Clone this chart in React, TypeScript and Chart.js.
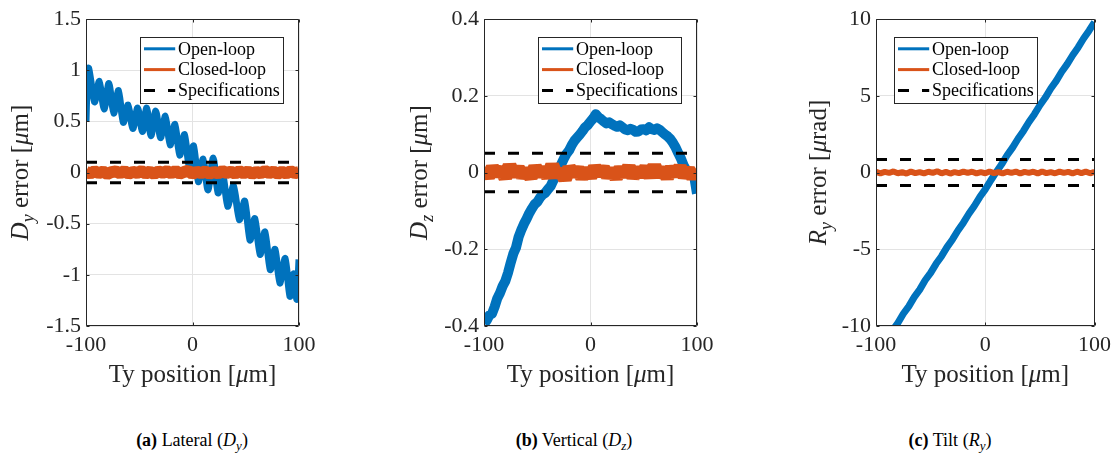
import React, { useEffect, useRef } from 'react';
import { Chart, registerables } from 'chart.js';

Chart.register(...registerables);

// ---------- data ----------
const BLUE = '#0072BD';
const ORANGE = '#D95319';
const GRID = '#e3e3e3';
const TXT = '#262626';
const FONT = '"Liberation Serif", "Times New Roman", serif';

const X_TICKS = [-100, 0, 100];
const Y_TICKS_DY = [-1.5, -1, -0.5, 0, 0.5, 1, 1.5];
const Y_TICKS_DZ = [-0.4, -0.2, 0, 0.2, 0.4];
const Y_TICKS_RY = [-10, -5, 0, 5, 10];

const SPEC_DY = 0.1;
const SPEC_DZ = 0.05;
const SPEC_RY = 0.85;

const POS_4 = [
  -100, -96, -92, -88, -84, -80, -76, -72, -68, -64,
  -60, -56, -52, -48, -44, -40, -36, -32, -28, -24,
  -20, -16, -12, -8, -4, 0, 4, 8, 12, 16,
  20, 24, 28, 32, 36, 40, 44, 48, 52, 56,
  60, 64, 68, 72, 76, 80, 84, 88, 92, 96,
  100,
];
const POS_5 = [
  -100, -95, -90, -85, -80, -75, -70, -65, -60, -55,
  -50, -45, -40, -35, -30, -25, -20, -15, -10, -5,
  0, 5, 10, 15, 20, 25, 30, 35, 40, 45,
  50, 55, 60, 65, 70, 75, 80, 85, 90, 95,
  100,
];
const POS_2_5 = [
  -100, -97.5, -95, -92.5, -90, -87.5, -85, -82.5, -80, -77.5,
  -75, -72.5, -70, -67.5, -65, -62.5, -60, -57.5, -55, -52.5,
  -50, -47.5, -45, -42.5, -40, -37.5, -35, -32.5, -30, -27.5,
  -25, -22.5, -20, -17.5, -15, -12.5, -10, -7.5, -5, -2.5,
  0, 2.5, 5, 7.5, 10, 12.5, 15, 17.5, 20, 22.5,
  25, 27.5, 30, 32.5, 35, 37.5, 40, 42.5, 45, 47.5,
  50, 52.5, 55, 57.5, 60, 62.5, 65, 67.5, 70, 72.5,
  75, 77.5, 80, 82.5, 85, 87.5, 90, 92.5, 95, 97.5,
  100,
];

// (a) Lateral – open loop (peaks / troughs of the ripple)
const OL_DY_X = [
  -100, -99, -97.5, -92, -87.5, -83, -78.5, -74, -69.5, -65,
  -60.5, -56, -51.5, -47, -43, -39, -34.5, -30, -25.5, -21,
  -16.5, -12, -7.5, -3, 1, 5.5, 10, 14.5, 19.5, 24,
  28.5, 33, 38.5, 44, 49, 54, 58.5, 63.5, 68, 73,
  77.5, 82, 87, 91.5, 95, 98, 100,
];
const OL_DY_Y = [
  0.5, 0.85, 1.02, 0.69, 0.89, 0.62, 0.87, 0.58, 0.8, 0.49,
  0.66, 0.43, 0.63, 0.4, 0.63, 0.36, 0.6, 0.34, 0.55, 0.27,
  0.47, 0.17, 0.37, 0.05, 0.26, -0.09, 0.13, -0.17, 0.14, -0.2,
  -0.02, -0.33, -0.13, -0.46, -0.28, -0.66, -0.45, -0.8, -0.58, -0.95,
  -0.75, -1.08, -0.84, -1.21, -0.99, -1.24, -0.85,
];
const CL_DY_Y = [
  0.008, -0.011, 0.013, -0.006, 0.01, -0.014, 0.004, 0.012, -0.009, 0.015,
  -0.012, 0.006, -0.004, 0.014, -0.01, 0.009, -0.015, 0.011, -0.003, 0.013,
  -0.008, 0.016, -0.011, 0.005, 0.018, -0.016, 0.01, -0.007, 0.012, -0.013,
  0.006, -0.01, 0.014, -0.005, 0.009, -0.012, 0.013, -0.008, 0.011, -0.014,
  0.007, -0.009, 0.015, -0.006, 0.01, -0.012, 0.008, -0.01, 0.013, -0.007,
  0.005,
];

// (b) Vertical
const OL_DZ_Y = [
  -0.392, -0.386, -0.372, -0.368, -0.35, -0.328, -0.314, -0.296, -0.283, -0.262,
  -0.236, -0.212, -0.196, -0.168, -0.15, -0.134, -0.121, -0.106, -0.094, -0.083,
  -0.077, -0.066, -0.058, -0.053, -0.044, -0.036, -0.021, -0.008, 0.008, 0.021,
  0.036, 0.049, 0.058, 0.072, 0.083, 0.091, 0.099, 0.108, 0.118, 0.124,
  0.133, 0.141, 0.152, 0.144, 0.139, 0.133, 0.128, 0.131, 0.126, 0.122,
  0.119, 0.123, 0.118, 0.112, 0.11, 0.114, 0.111, 0.106, 0.107, 0.112,
  0.113, 0.11, 0.118, 0.113, 0.111, 0.115, 0.111, 0.105, 0.099, 0.094,
  0.087, 0.077, 0.065, 0.05, 0.036, 0.018, 0.006, 0.001, -0.004, -0.012,
  -0.055,
];
const CL_DZ_Y = [
  0.006, -0.01, 0.012, -0.004, 0.009, -0.013, 0.018, -0.007, 0.011, -0.009,
  0.005, -0.012, 0.014, -0.006, 0.01, -0.011, 0.019, -0.008, 0.004, -0.017,
  0.012, -0.005, 0.009, -0.012, 0.007, -0.01, 0.013, -0.004, 0.011, -0.009,
  0.006, -0.013, 0.01, -0.007, 0.014, -0.011, 0.008, -0.006, 0.012, -0.01,
  0.017, -0.008, 0.009, -0.012, 0.011, -0.005, 0.013, -0.009, 0.007, -0.011,
  0.006,
];

// (c) Tilt
const OL_RY_Y = [
  -11.96, -11.38, -10.9, -10.3, -9.8, -9.2, -8.72, -8.12, -7.63, -7.02,
  -6.54, -5.95, -5.45, -4.86, -4.36, -3.78, -3.27, -2.69, -2.18, -1.6,
  -1.1, -0.52, 0.02, 0.53, 1.12, 1.62, 2.2, 2.71, 3.29, 3.8,
  4.38, 4.88, 5.47, 5.97, 6.56, 7.06, 7.64, 8.15, 8.73, 9.24,
  9.8,
];
const CL_RY_Y = [
  0.05, -0.06, 0.04, -0.03, 0.07, -0.05, 0.02, -0.07, 0.06, -0.04,
  0.03, -0.06, 0.05, -0.02, 0.08, -0.05, 0.04, -0.07, 0.03, -0.04,
  0.06, -0.03, 0.05, -0.06, 0.02, -0.05, 0.07, -0.04, 0.03, -0.06,
  0.05, -0.02, 0.06, -0.07, 0.04, -0.03, 0.05, -0.06, 0.07, -0.04,
  0.03, -0.05, 0.06, -0.03, 0.04, -0.06, 0.05, -0.04, 0.06, -0.05,
  0.04,
];

const LEGEND_LABELS = ['Open-loop', 'Closed-loop', 'Specifications'];

// ---------- helpers ----------
type Seg = { t: string; it?: boolean; sub?: boolean };

function pts(xs: number[], ys: number[]) {
  return xs.map((x, i) => ({ x, y: ys[i] }));
}

function segFont(s: Seg, size: number) {
  return `${s.it ? 'italic ' : ''}${s.sub ? Math.round(size * 0.7) : size}px ${FONT}`;
}

function drawRich(ctx: CanvasRenderingContext2D, segs: Seg[], cx: number, cy: number, size: number, rotate: boolean, baseOff: number) {
  ctx.save();
  ctx.translate(cx, cy);
  if (rotate) ctx.rotate(-Math.PI / 2);
  let total = 0;
  const widths = segs.map((s) => {
    ctx.font = segFont(s, size);
    const w = ctx.measureText(s.t).width;
    total += w;
    return w;
  });
  let x = -total / 2;
  ctx.textAlign = 'left';
  ctx.textBaseline = 'alphabetic';
  ctx.fillStyle = TXT;
  segs.forEach((s, i) => {
    ctx.font = segFont(s, size);
    ctx.fillText(s.t, x, baseOff + (s.sub ? size * 0.22 : 0));
    x += widths[i];
  });
  ctx.restore();
}

interface PanelCfg {
  left: number;
  width: number;
  padLeft: number;
  padRight: number;
  yMin: number;
  yMax: number;
  yTicks: number[];
  ol: { x: number; y: number }[];
  olWidth: number;
  olTension: number;
  cl: { x: number; y: number }[];
  clWidth: number;
  spec: number;
  yTitle: Seg[];
  yTitleOffset: number;
  legendSide: 'left' | 'right';
}

const X_TITLE: Seg[] = [{ t: 'Ty position [' }, { t: 'μ', it: true }, { t: 'm]' }];
const TITLE_SIZE = 25;

function makeDecor(cfg: PanelCfg) {
  return {
    id: 'decor',
    afterDatasetsDraw(chart: any) {
      const { ctx, chartArea: a, scales } = chart;
      ctx.save();
      ctx.strokeStyle = TXT;
      ctx.lineWidth = 1;
      const L = Math.round(a.left) + 0.5;
      const R = Math.round(a.right) - 0.5;
      const T = Math.round(a.top) + 0.5;
      const B = Math.round(a.bottom) - 0.5;
      ctx.beginPath();
      ctx.rect(L, T, R - L, B - T);
      ctx.stroke();
      ctx.beginPath();
      cfg.yTicks.forEach((v) => {
        const py = Math.round(scales.y.getPixelForValue(v)) + 0.5;
        ctx.moveTo(L, py); ctx.lineTo(L + 3, py);
        ctx.moveTo(R, py); ctx.lineTo(R - 3, py);
      });
      X_TICKS.forEach((v) => {
        const px = Math.round(scales.x.getPixelForValue(v)) + 0.5;
        ctx.moveTo(px, B); ctx.lineTo(px, B - 3);
        ctx.moveTo(px, T); ctx.lineTo(px, T + 3);
      });
      ctx.stroke();
      ctx.restore();
    },
    afterDraw(chart: any) {
      const { ctx, chartArea: a } = chart;
      // legend
      const w = 143, h = 66;
      const bx = cfg.legendSide === 'right' ? Math.round(a.right - 16.5 - w) + 0.5 : Math.round(a.left + 18) + 0.5;
      const by = Math.round(a.top + 18) + 0.5;
      ctx.save();
      ctx.fillStyle = '#ffffff';
      ctx.fillRect(bx, by, w, h);
      ctx.strokeStyle = TXT;
      ctx.lineWidth = 1;
      ctx.strokeRect(bx, by, w, h);
      const colors = [BLUE, ORANGE, '#000000'];
      LEGEND_LABELS.forEach((lab, i) => {
        const cy = by + 11.3 + i * 20.8;
        ctx.beginPath();
        ctx.strokeStyle = colors[i];
        ctx.lineWidth = 3;
        ctx.setLineDash(i === 2 ? [11, 13] : []);
        ctx.moveTo(bx + 3.5, cy);
        ctx.lineTo(bx + 34.7, cy);
        ctx.stroke();
        ctx.setLineDash([]);
        ctx.fillStyle = '#000000';
        ctx.font = `18px ${FONT}`;
        ctx.textAlign = 'left';
        ctx.textBaseline = 'middle';
        ctx.fillText(lab, bx + 37.4, cy + 1);
      });
      ctx.restore();
      // axis titles
      const cxMid = (a.left + a.right) / 2;
      const cyMid = (a.top + a.bottom) / 2;
      drawRich(ctx, X_TITLE, cxMid, a.bottom + 56, TITLE_SIZE, false, 0);
      drawRich(ctx, cfg.yTitle, a.left - cfg.yTitleOffset, cyMid, TITLE_SIZE, true, TITLE_SIZE * 0.25);
    },
  };
}

function fmt(v: any) {
  return String(Math.round(Number(v) * 1000) / 1000);
}

function Panel({ cfg }: { cfg: PanelCfg }) {
  const ref = useRef<HTMLCanvasElement>(null);
  useEffect(() => {
    const specData = (s: number) => [{ x: -100, y: s }, { x: 100, y: s }];
    const chart = new Chart(ref.current as HTMLCanvasElement, {
      type: 'line',
      data: {
        datasets: [
          {
            label: 'Open-loop', data: cfg.ol, borderColor: BLUE, borderWidth: cfg.olWidth,
            pointRadius: 0, tension: cfg.olTension, borderJoinStyle: 'round', order: 3,
          } as any,
          {
            label: 'Closed-loop', data: cfg.cl, borderColor: ORANGE, borderWidth: cfg.clWidth,
            pointRadius: 0, tension: 0, borderJoinStyle: 'bevel', order: 2,
          } as any,
          {
            label: 'Specifications', data: specData(cfg.spec), borderColor: '#000000', borderWidth: 3,
            borderDash: [11, 13], pointRadius: 0, order: 1,
          } as any,
          {
            label: 'spec-low', data: specData(-cfg.spec), borderColor: '#000000', borderWidth: 3,
            borderDash: [11, 13], pointRadius: 0, order: 1,
          } as any,
        ],
      },
      options: {
        animation: false,
        responsive: false,
        maintainAspectRatio: false,
        events: [],
        layout: { padding: { left: cfg.padLeft, right: cfg.padRight, top: 19, bottom: 44 } },
        plugins: { legend: { display: false }, tooltip: { enabled: false } },
        scales: {
          x: {
            type: 'linear', min: -100, max: 100,
            afterBuildTicks: (s: any) => { s.ticks = X_TICKS.map((v) => ({ value: v })); },
            afterFit: (s: any) => { s.height = 30; },
            grid: { color: GRID, drawTicks: false },
            border: { display: false },
            ticks: { padding: 6, color: TXT, font: { family: FONT, size: 22 }, callback: fmt, maxRotation: 0, autoSkip: false },
          },
          y: {
            type: 'linear', min: cfg.yMin, max: cfg.yMax,
            afterBuildTicks: (s: any) => { s.ticks = cfg.yTicks.map((v) => ({ value: v })); },
            afterFit: (s: any) => { s.width = 40; },
            grid: { color: GRID, drawTicks: false },
            border: { display: false },
            ticks: { padding: 5, color: TXT, font: { family: FONT, size: 22 }, callback: fmt, autoSkip: false },
          },
        },
      } as any,
      plugins: [makeDecor(cfg) as any],
    });
    return () => chart.destroy();
  }, []);
  return (
    <canvas
      ref={ref}
      width={cfg.width}
      height={400}
      style={{ position: 'absolute', left: cfg.left, top: 0, width: cfg.width, height: 400 }}
    />
  );
}

const PANELS: PanelCfg[] = [
  {
    left: 0, width: 372, padLeft: 46, padRight: 73,
    yMin: -1.5, yMax: 1.5, yTicks: Y_TICKS_DY,
    ol: pts(OL_DY_X, OL_DY_Y), olWidth: 7, olTension: 0.2,
    cl: pts(POS_4, CL_DY_Y), clWidth: 12,
    spec: SPEC_DY,
    yTitle: [{ t: 'D', it: true }, { t: 'y', it: true, sub: true }, { t: ' error [' }, { t: 'μ', it: true }, { t: 'm]' }],
    yTitleOffset: 64, legendSide: 'right',
  },
  {
    left: 372, width: 372, padLeft: 72, padRight: 47,
    yMin: -0.4, yMax: 0.4, yTicks: Y_TICKS_DZ,
    ol: pts(POS_2_5, OL_DZ_Y), olWidth: 10, olTension: 0,
    cl: pts(POS_4, CL_DZ_Y), clWidth: 14,
    spec: SPEC_DZ,
    yTitle: [{ t: 'D', it: true }, { t: 'z', it: true, sub: true }, { t: ' error [' }, { t: 'μ', it: true }, { t: 'm]' }],
    yTitleOffset: 63, legendSide: 'right',
  },
  {
    left: 744, width: 373, padLeft: 92, padRight: 22,
    yMin: -10, yMax: 10, yTicks: Y_TICKS_RY,
    ol: pts(POS_5, OL_RY_Y), olWidth: 7, olTension: 0,
    cl: pts(POS_4, CL_RY_Y), clWidth: 6,
    spec: SPEC_RY,
    yTitle: [{ t: 'R', it: true }, { t: 'y', it: true, sub: true }, { t: ' error [' }, { t: 'μ', it: true }, { t: 'rad]' }],
    yTitleOffset: 56, legendSide: 'left',
  },
];

const CAPTIONS = [
  { tag: '(a)', text: 'Lateral', sym: 'D', sub: 'y', center: 192 },
  { tag: '(b)', text: 'Vertical', sym: 'D', sub: 'z', center: 574 },
  { tag: '(c)', text: 'Tilt', sym: 'R', sub: 'y', center: 950 },
];

export default function App() {
  return (
    <div style={{ position: 'absolute', left: 0, top: 0, width: 1117, height: 459, background: '#fff', overflow: 'hidden' }}>
      {PANELS.map((p, i) => (
        <Panel key={i} cfg={p} />
      ))}
      {CAPTIONS.map((c, i) => (
        <div
          key={i}
          style={{
            position: 'absolute', left: c.center, top: 428, transform: 'translateX(-50%)',
            whiteSpace: 'nowrap', fontFamily: FONT, fontSize: 18, color: '#000', lineHeight: '24px',
          }}
        >
          <span style={{ fontWeight: 'bold' }}>{c.tag}</span> {c.text} (
          <span style={{ fontStyle: 'italic' }}>{c.sym}</span>
          <sub style={{ fontStyle: 'italic', fontSize: 13, verticalAlign: '-4px', lineHeight: 0 }}>{c.sub}</sub>)
        </div>
      ))}
    </div>
  );
}
